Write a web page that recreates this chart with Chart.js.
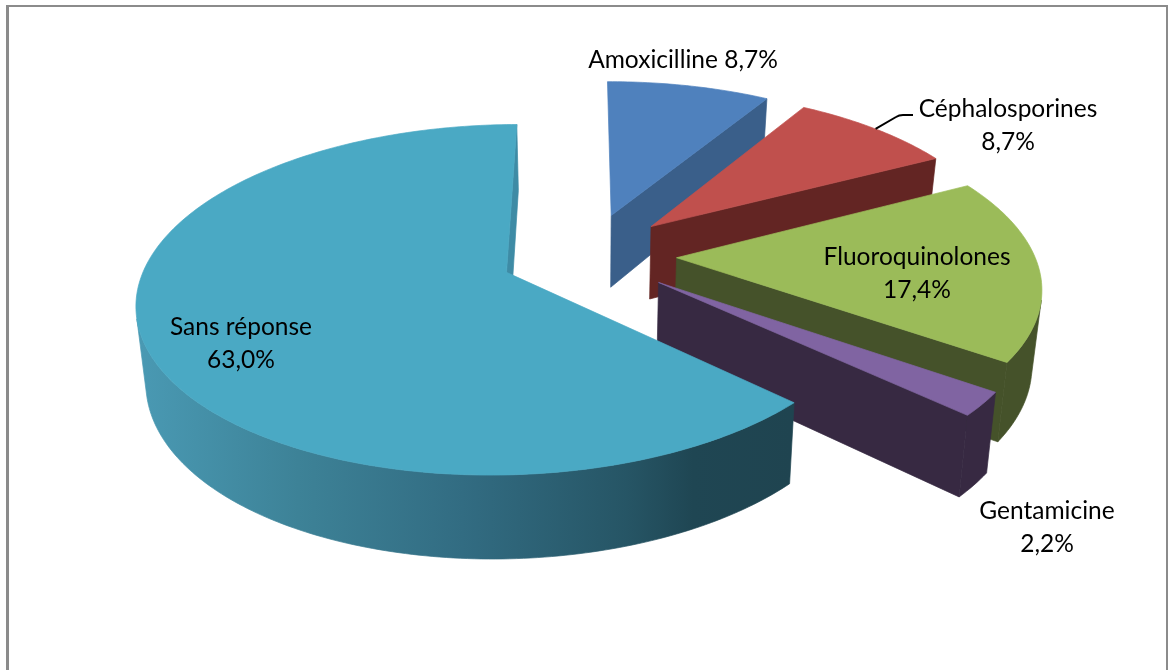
<!DOCTYPE html>
<html>
<head>
<meta charset="utf-8">
<style>html,body{margin:0;background:#fff}</style>
<script src="https://cdn.jsdelivr.net/npm/chart.js@4"></script>
</head>
<body>
<canvas id="pieChart" width="1168" height="670"></canvas>
<script>
// Share of each antibiotic family, in %
const categories = ['Amoxicilline', 'Céphalosporines', 'Fluoroquinolones', 'Gentamicine', 'Sans réponse'];
const values = [8.7, 8.7, 17.4, 2.2, 63.0];

const topColors = ['#4f81bd', '#c0504d', '#9bbb59', '#8064a2', '#4aa9c4'];
const wallColors = ['#3a5f8a', '#632523', '#45522a', '#372942', '#3e8ba5'];

// Text anchor per slice: x centre, first baseline, and whether name and value share a line
const labelX = [683, 1008, 917, 1047, 241];
const labelY = [68, 117, 265, 519, 335];
const labelOneLine = [true, false, false, false, false];

// Tilted view of the pie, expressed as ratios of the radius Chart.js computes
const view = { spreadX: 1.4032, spreadY: 0.6494, perspective: 0.154, vanish: 0.0201,
               explodeX: 0.246, explodeY: 0.257, depth: 0.2902, depthSlope: 0.0353, shrink: 0.978 };

function project(arc, X, Y, Z) {
  const R = arc.outerRadius;
  const w = 1 + view.perspective * Y;
  const vx = arc.x + view.vanish * R;
  let sx = vx + (arc.x - vx + view.spreadX * R * X) / w;
  let sy = arc.y - view.spreadY * R * Y / w;
  if (Z) {
    sx = arc.x + (sx - arc.x) * view.shrink;
    sy += (view.depth - view.depthSlope * Y) * R;
  }
  return [sx, sy];
}

function area(pts) {
  let s = 0;
  pts.forEach((p, i) => {
    const q = pts[(i + 1) % pts.length];
    s += p[0] * q[1] - q[0] * p[1];
  });
  return s;
}

function fillShape(ctx, pts, style) {
  ctx.beginPath();
  pts.forEach((p, i) => i ? ctx.lineTo(p[0], p[1]) : ctx.moveTo(p[0], p[1]));
  ctx.closePath();
  ctx.fillStyle = style;
  ctx.strokeStyle = style;
  ctx.lineWidth = 0.7;
  ctx.fill();
  ctx.stroke();
}

// Point on a slice's rim at angle a, z = 0 on the top face and 1 on the bottom one
function rimPoint(arc, a, z) {
  const mid = (arc.startAngle + arc.endAngle) / 2;
  const ox = view.explodeX * Math.cos(mid), oy = -view.explodeY * Math.sin(mid);
  return project(arc, ox + Math.cos(a), oy - Math.sin(a), z);
}

const pie3d = {
  id: 'pie3d',
  beforeDraw(chart) {
    const ctx = chart.ctx;
    ctx.fillStyle = '#8b8b8b';
    ctx.fillRect(6, 5, 3, 665);
    ctx.fillRect(6, 5, 1162, 2);
    ctx.fillRect(1166, 5, 2, 665);
  },
  // Slices are painted here back to front, with their side walls
  beforeDatasetsDraw(chart) {
    const ctx = chart.ctx;
    chart.getDatasetMeta(0).data.forEach((arc, i) => {
      const st = arc.startAngle, en = arc.endAngle, mid = (st + en) / 2;
      const ox = view.explodeX * Math.cos(mid), oy = -view.explodeY * Math.sin(mid);
      const apexTop = project(arc, ox, oy, 0), apexBottom = project(arc, ox, oy, 1);
      const P = (a, z) => rimPoint(arc, a, z);

      const endWall = [apexTop, P(en, 0), P(en, 1), apexBottom];
      const startWall = [P(st, 0), apexTop, apexBottom, P(st, 1)];
      for (const wall of [startWall, endWall]) {
        if (area(wall) > 1500) fillShape(ctx, wall, wallColors[i]);
      }

      let rimStyle = wallColors[i];
      if (i === 4) {
        const grad = ctx.createLinearGradient(134, 0, 792, 0);
        grad.addColorStop(0, '#4a9ab4');
        grad.addColorStop(0.25, '#3d8297');
        grad.addColorStop(0.5, '#326c82');
        grad.addColorStop(0.75, '#265565');
        grad.addColorStop(0.85, '#1f4653');
        grad.addColorStop(1, '#1f4450');
        rimStyle = grad;
      }

      const steps = Math.max(8, Math.round((en - st) * 60));
      let run = [];
      const flush = () => {
        if (run.length) {
          const pts = run.map(a => P(a, 0)).concat(run.slice().reverse().map(a => P(a, 1)));
          fillShape(ctx, pts, rimStyle);
          run = [];
        }
      };
      for (let k = 0; k < steps; k++) {
        const a = st + (en - st) * k / steps, b = st + (en - st) * (k + 1) / steps;
        if (area([P(a, 0), P(b, 0), P(b, 1), P(a, 1)]) < 0) {
          if (!run.length) run.push(a);
          run.push(b);
        } else {
          flush();
        }
      }
      flush();

      const top = [apexTop];
      for (let k = 0; k <= steps; k++) top.push(P(st + (en - st) * k / steps, 0));
      fillShape(ctx, top, topColors[i]);
    });
    return false;
  },
  afterDraw(chart) {
    const ctx = chart.ctx;
    const arcs = chart.getDatasetMeta(0).data;

    // Leader line of the Céphalosporines label
    const c = arcs[1];
    const anchor = rimPoint(c, (c.startAngle + c.endAngle) / 2, 0);
    ctx.beginPath();
    ctx.moveTo(913, 115);
    ctx.lineTo(903, 115);
    ctx.quadraticCurveTo(899, 115, 896, 117);
    ctx.lineTo(anchor[0], anchor[1]);
    ctx.strokeStyle = '#000';
    ctx.lineWidth = 2;
    ctx.stroke();

    ctx.fillStyle = '#000';
    ctx.textAlign = 'center';
    ctx.textBaseline = 'alphabetic';
    ctx.font = '24.5px Lato';
    categories.forEach((name, i) => {
      const pct = values[i].toFixed(1).replace('.', ',') + '%';
      if (labelOneLine[i]) {
        ctx.fillText(name + ' ' + pct, labelX[i], labelY[i]);
      } else {
        ctx.fillText(name, labelX[i], labelY[i]);
        ctx.fillText(pct, labelX[i], labelY[i] + 33);
      }
    });
  }
};

new Chart(document.getElementById('pieChart'), {
  type: 'pie',
  data: {
    labels: categories,
    datasets: [{ data: values, backgroundColor: topColors, borderWidth: 0 }]
  },
  options: {
    responsive: false,
    animation: false,
    rotation: -0.275,
    layout: { padding: { left: 9, bottom: 160 } },
    plugins: { legend: { display: false }, tooltip: { enabled: false } }
  },
  plugins: [pie3d]
});
</script>
</body>
</html>
